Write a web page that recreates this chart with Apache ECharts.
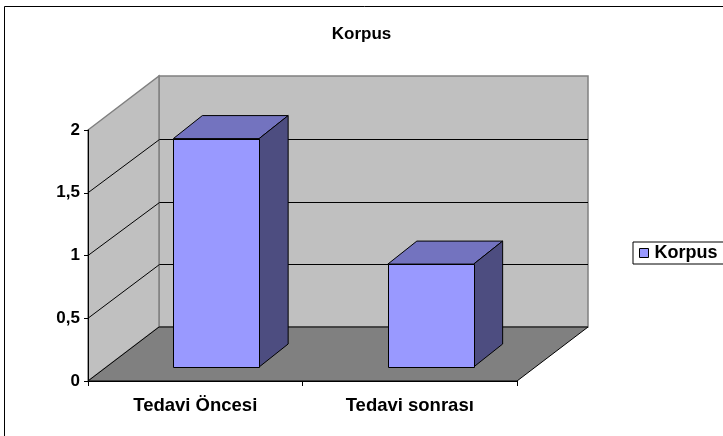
<!DOCTYPE html>
<html>
<head>
<meta charset="utf-8">
<script src="https://cdn.jsdelivr.net/npm/echarts@6/dist/echarts.min.js"></script>
<style>
  html, body { margin: 0; padding: 0; background: #fff; }
  #chart { width: 723px; height: 436px; }
</style>
</head>
<body>
<div id="chart"></div>
<script>
// data
const categories = ['Tedavi Öncesi', 'Tedavi sonrası'];
const korpus = [1.82, 0.82];
const yMin = 0;
const yMax = 2;
const yStep = 0.5;

// 3d look (pixel offsets)
const DEPTH = [71, -54];      // wall depth
const FRONT = [21, -14];      // bar front face offset from floor front edge
const BAR_DEPTH = [29, -23];
const BAR_RATIO = 0.4;

const FONT = '"Liberation Sans", Arial, sans-serif';

const chart = echarts.init(document.getElementById('chart'));

const px = (v) => Math.round(v) + 0.5;

function renderWalls(params, api) {
  const cs = params.coordSys;
  const x0 = cs.x;
  const x1 = cs.x + cs.width;
  const yTop = api.coord([0, yMax])[1];
  const yBot = api.coord([0, yMin])[1];
  const dx = DEPTH[0];
  const dy = DEPTH[1];
  const children = [
    { // back wall
      type: 'polygon',
      shape: { points: [[x0 + dx, yTop + dy], [x1 + dx, yTop + dy], [x1 + dx, yBot + dy], [x0 + dx, yBot + dy]] },
      style: { fill: '#c0c0c0', stroke: '#808080', lineWidth: 1.5 },
    },
    { // left wall
      type: 'polygon',
      shape: { points: [[x0, yTop], [x0 + dx, yTop + dy], [x0 + dx, yBot + dy], [x0, yBot]] },
      style: { fill: '#c0c0c0', stroke: '#808080', lineWidth: 1.5 },
    },
    { // floor
      type: 'polygon',
      shape: { points: [[x0, yBot], [x0 + dx, yBot + dy], [x1 + dx, yBot + dy], [x1, yBot]] },
      style: { fill: '#808080', stroke: '#000', lineWidth: 1 },
    },
  ];
  for (let v = yMin + yStep; v < yMax - 1e-9; v += yStep) {
    const y = api.coord([0, v])[1];
    children.push({
      type: 'polyline',
      shape: { points: [[x0, y], [px(x0 + dx), px(y + dy)], [x1 + dx, px(y + dy)]] },
      style: { stroke: '#000', lineWidth: 1, fill: null },
    });
  }
  return { type: 'group', children };
}

function renderBar(params, api) {
  const i = api.value(0);
  const base = api.coord([i, 0]);
  const top = api.coord([i, api.value(1)]);
  const bw = api.size([1, 0])[0] * BAR_RATIO;
  const l = base[0] + FRONT[0] - bw / 2;
  const r = l + bw;
  const yb = base[1] + FRONT[1];
  const yt = top[1] + FRONT[1];
  const [bx, by] = BAR_DEPTH;
  const edge = { stroke: '#000', lineWidth: 1 };
  return {
    type: 'group',
    children: [
      {
        type: 'polygon',
        shape: { points: [[l, yt], [r, yt], [r + bx, yt + by], [l + bx, yt + by]] },
        style: Object.assign({ fill: '#7373bf' }, edge),
      },
      {
        type: 'polygon',
        shape: { points: [[r, yt], [r + bx, yt + by], [r + bx, yb + by], [r, yb]] },
        style: Object.assign({ fill: '#4d4d80' }, edge),
      },
      {
        type: 'rect',
        shape: { x: px(l), y: px(yt), width: Math.round(bw), height: Math.round(yb - yt) },
        style: Object.assign({ fill: '#9999ff' }, edge),
      },
    ],
  };
}

const option = {
  animation: false,
  backgroundColor: '#fff',
  title: {
    text: 'Korpus',
    left: 'center',
    top: 21,
    textStyle: { fontFamily: FONT, fontWeight: 'bold', fontSize: 17, color: '#000' },
  },
  legend: {
    data: [{ name: 'Korpus', icon: 'rect' }],
    left: 633,
    top: 242,
    padding: [2, 40, 2, 6],
    itemWidth: 9,
    itemHeight: 9,
    itemGap: 4,
    borderColor: '#000',
    borderWidth: 1,
    backgroundColor: '#fff',
    itemStyle: { borderColor: '#000', borderWidth: 1 },
    textStyle: { fontFamily: FONT, fontWeight: 'bold', fontSize: 18, color: '#000', padding: [0, 0, 0, 1] },
  },
  graphic: [{
    type: 'rect',
    shape: { x: 4.5, y: 6.5, width: 900, height: 600 },
    style: { fill: null, stroke: '#000', lineWidth: 1 },
    z: 100,
  }],
  grid: { left: 88, right: 206, top: 130, bottom: 55 },
  xAxis: {
    type: 'category',
    data: categories,
    boundaryGap: true,
    z: 10,
    axisLine: { lineStyle: { color: '#000', width: 1 } },
    axisTick: { show: true, length: 5, lineStyle: { color: '#000' } },
    axisLabel: { margin: 15, fontFamily: FONT, fontWeight: 'bold', fontSize: 18.5, color: '#000' },
    splitLine: { show: false },
  },
  yAxis: {
    type: 'value',
    min: yMin,
    max: yMax,
    interval: yStep,
    z: 10,
    axisLine: { show: true, lineStyle: { color: '#000', width: 1 } },
    axisTick: { show: true, length: 4, lineStyle: { color: '#000' } },
    axisLabel: {
      margin: 8,
      fontFamily: FONT,
      fontWeight: 'bold',
      fontSize: 17,
      color: '#000',
      formatter: (v) => String(v).replace('.', ','),
    },
    splitLine: { show: false },
  },
  series: [
    {
      name: 'walls',
      type: 'custom',
      renderItem: renderWalls,
      data: [[0, 0]],
      clip: false,
      silent: true,
      z: 1,
    },
    {
      name: 'Korpus',
      type: 'custom',
      renderItem: renderBar,
      itemStyle: { color: '#9999ff' },
      data: korpus.map((v, i) => [i, v]),
      clip: false,
      z: 2,
    },
  ],
};

chart.setOption(option);
</script>
</body>
</html>
